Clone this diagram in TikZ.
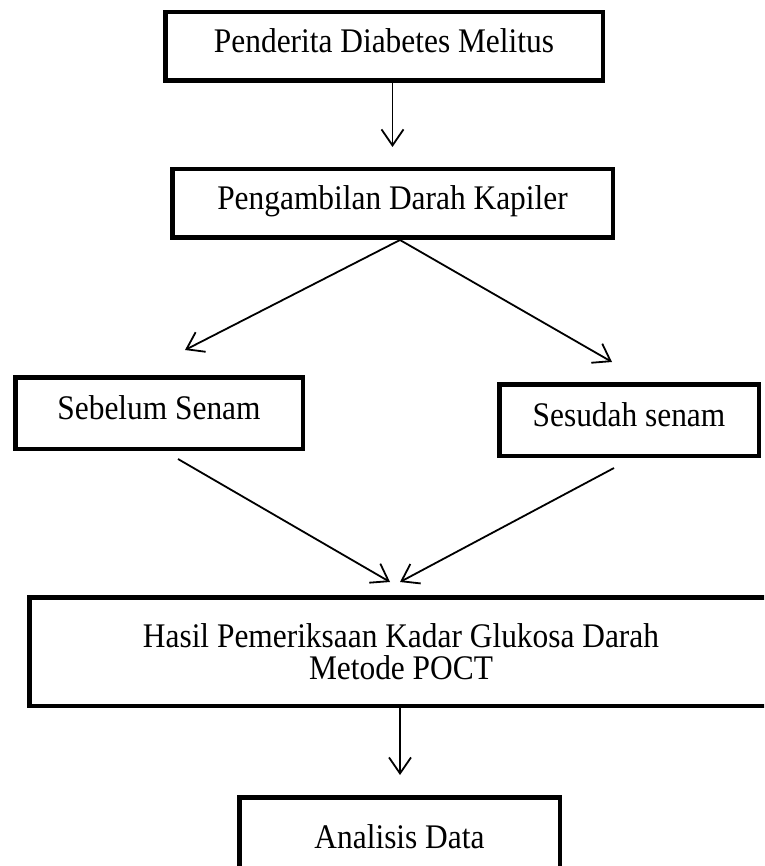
\documentclass[tikz,border=0pt]{standalone}
\usepackage{fontspec}
\setmainfont{Liberation Serif}[FakeStretch=0.91]
\usetikzlibrary{arrows.meta,calc}
\tikzset{
  box/.style={draw, line width=4.5pt, inner sep=0pt, align=center,
    font=\fontsize{34.5}{32}\selectfont},
  onel/.style={box, text height=24pt, text depth=12pt},
  arr/.style={line width=1.8pt,
    -{Straight Barb[length=16pt,width=22pt,line width=1.8pt]}},
}
\begin{document}
\begin{tikzpicture}[x=1pt,y=-1pt]
\path[use as bounding box, clip] (0,0) rectangle (764,866);
\fill[white] (0,0) rectangle (764,866);

\node[onel, minimum width=437.5pt, minimum height=68.5pt] (b1) at (384,46.5) {Penderita Diabetes Melitus};
\node[onel, minimum width=440.5pt, minimum height=68.5pt] (b2) at (392.5,203.5) {Pengambilan Darah Kapiler};
\node[onel, minimum width=287.5pt, minimum height=71.5pt] (b3) at (159,413) {Sebelum Senam};
\node[onel, minimum width=259.5pt, minimum height=71.5pt] (b4) at (629,420) {Sesudah senam};
\node[box, minimum width=743.5pt, minimum height=108.5pt] (b5) at (401,651.5) {Hasil Pemeriksaan Kadar Glukosa Darah\\Metode POCT};
\node[onel, minimum width=320.5pt, minimum height=89.5pt] (b6) at (399.5,842) {Analisis Data};

\coordinate (t1) at (392.5,147);
\draw[arr] (b1.south -| t1) -- (t1);

\coordinate (s2) at (400,240);
\coordinate (tL) at (185,350);
\coordinate (tR) at (612,362);
\draw[arr] (s2) -- (tL);
\draw[arr] (s2) -- (tR);

\coordinate (sL) at (178,459);
\coordinate (tM1) at (390,582);
\coordinate (sR) at (614,468);
\coordinate (tM2) at (400,582);
\draw[arr] (sL) -- (tM1);
\draw[arr] (sR) -- (tM2);

\coordinate (t5) at (400,775);
\draw[arr] (b5.south -| t5) -- (t5);
\end{tikzpicture}
\end{document}
